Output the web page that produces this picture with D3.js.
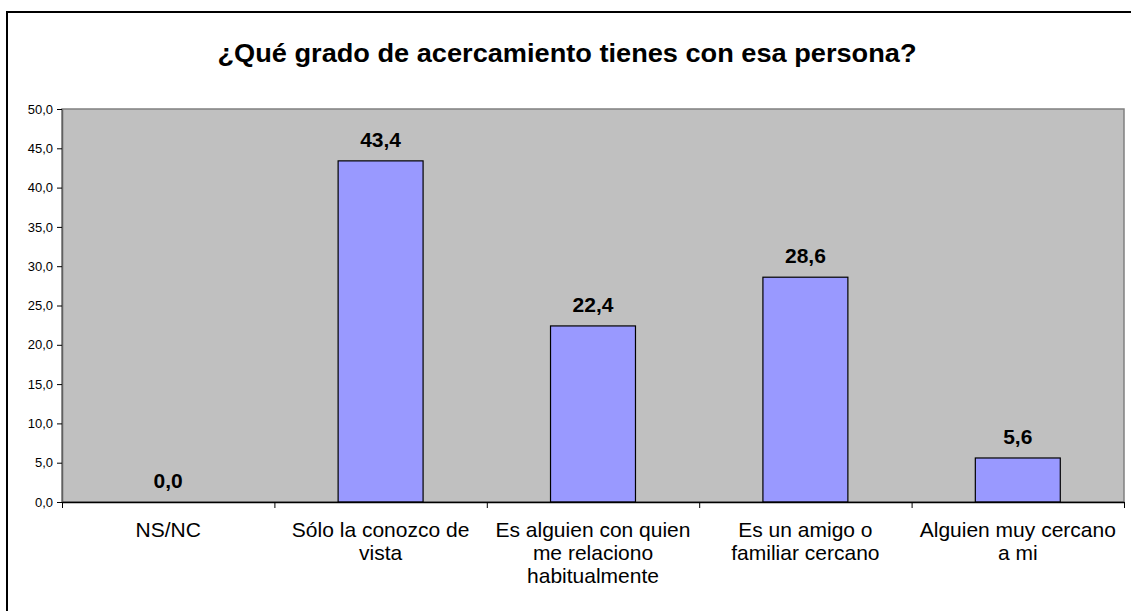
<!DOCTYPE html>
<html><head><meta charset="utf-8">
<script src="https://cdn.jsdelivr.net/npm/d3@7"></script>
<style>body{margin:0;background:#fff}svg{display:block;font-family:"Liberation Sans",Arial,sans-serif}</style>
</head><body><svg id="c" width="1131" height="611"></svg>
<script>
const title = "¿Qué grado de acercamiento tienes con esa persona?";
const categories = ["NS/NC","Sólo la conozco de vista","Es alguien con quien me relaciono habitualmente","Es un amigo o familiar cercano","Alguien muy cercano a mi"];
const labelLines = [["NS/NC"],["Sólo la conozco de","vista"],["Es alguien con quien","me relaciono","habitualmente"],["Es un amigo o","familiar cercano"],["Alguien muy cercano","a mi"]];
const values = [0.0, 43.4, 22.4, 28.6, 5.6];
const yTicks = [0,5,10,15,20,25,30,35,40,45,50];

const svg = d3.select("#c");
const fmt = v => v.toFixed(1).replace(".", ",");
const L = 62, R = 1124, T = 109, B = 502;

// outer frame
svg.append("rect").attr("x",7).attr("y",12).attr("width",1140).attr("height",620)
  .attr("fill","#fff").attr("stroke","#000").attr("stroke-width",2);

svg.append("text").attr("x",567).attr("y",62).attr("text-anchor","middle")
  .attr("font-size",26).attr("font-weight","bold").attr("textLength",699).attr("lengthAdjust","spacingAndGlyphs").text(title);

const x = d3.scaleBand().domain(categories).range([L,R]).paddingInner(0.6).paddingOuter(0.3);
const xb = d3.scaleLinear().domain([0,categories.length]).range([L,R]);
const y = d3.scaleLinear().domain([0,50]).range([B,T]);

svg.append("rect").attr("x",L).attr("y",T).attr("width",R-L).attr("height",B-T)
  .attr("fill","#c0c0c0").attr("stroke","#808080").attr("stroke-width",1.5);

svg.selectAll(".bar").data(values).join("rect")
  .attr("x",(d,i)=>x(categories[i])).attr("width",x.bandwidth())
  .attr("y",d=>y(d)).attr("height",d=>B-y(d))
  .attr("fill","#9999ff").attr("stroke","#000").attr("stroke-width",1.2);

svg.selectAll(".val").data(values).join("text")
  .attr("x",(d,i)=>x(categories[i])+x.bandwidth()/2).attr("y",d=>y(d)-14)
  .attr("text-anchor","middle").attr("font-size",21).attr("font-weight","bold").text(fmt);

// y axis
const ya = svg.append("g").attr("transform",`translate(${L},0)`)
  .call(d3.axisLeft(y).tickValues(yTicks).tickFormat(fmt).tickSize(5).tickPadding(4).tickSizeOuter(0));
ya.select(".domain").attr("stroke","#606060").attr("stroke-width",1.5);
ya.selectAll("text").attr("font-size",13).attr("font-family","Liberation Sans, Arial, sans-serif").attr("fill","#000");

// x axis
const xa = svg.append("g").attr("transform",`translate(0,${B})`)
  .call(d3.axisBottom(xb).tickValues(d3.range(0,categories.length+1)).tickFormat("").tickSize(6).tickSizeOuter(0));
xa.select(".domain").attr("stroke","#000").attr("stroke-width",1.5);

labelLines.forEach((lines,i)=>{
  const cx = x(categories[i])+x.bandwidth()/2;
  const t = svg.append("text").attr("x",cx).attr("y",537)
    .attr("text-anchor","middle").attr("font-size",21);
  lines.forEach((ln,j)=>t.append("tspan").attr("x",cx).attr("y",537+j*23).text(ln));
});
</script></body></html>
